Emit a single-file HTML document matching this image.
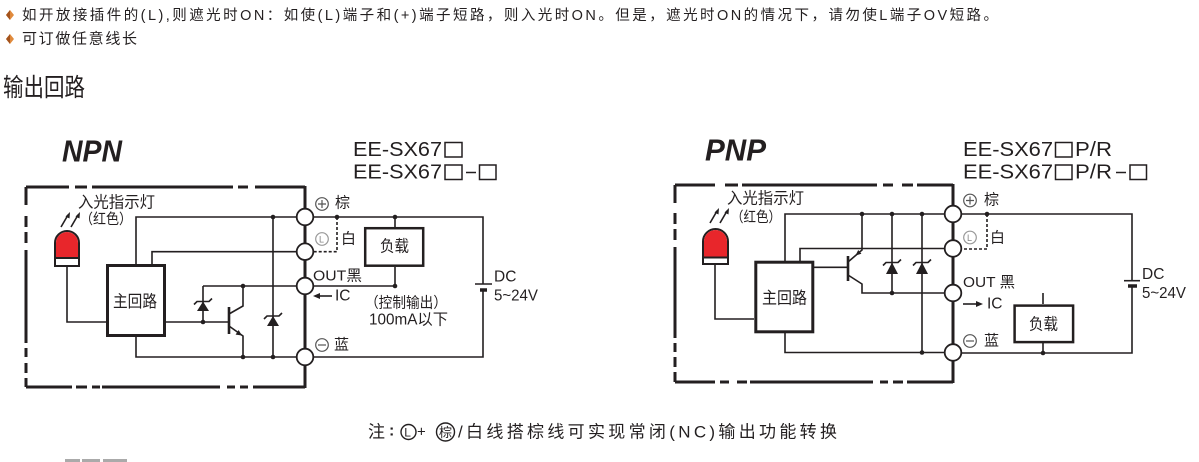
<!DOCTYPE html>
<html><head><meta charset="utf-8"><style>
html,body{margin:0;padding:0;background:#fff;width:1199px;height:462px;overflow:hidden}
svg{display:block}
text{font-family:"Liberation Sans","Noto Sans CJK SC",sans-serif;fill:#231f20;dominant-baseline:central}
.w{fill:none;stroke:#231f20;stroke-width:1.6}
.f{fill:none;stroke:#231f20;stroke-width:3}
.d{fill:#231f20}
.t{fill:#fff;stroke:#231f20;stroke-width:1.8}
.bx{fill:none;stroke:#231f20;stroke-width:1.5}
</style></head><body>
<svg width="1199" height="462" viewBox="0 0 1199 462" xmlns="http://www.w3.org/2000/svg">
<!-- top notes -->
<polygon points="10,10 14,15 10,20 6,15" fill="#e08a3c"/><polygon points="10,10 10,20 6,15" fill="#a4531c"/>
<polygon points="10,34 14,39 10,44 6,39" fill="#e08a3c"/><polygon points="10,34 10,44 6,39" fill="#a4531c"/>
<text x="22" y="16" font-size="14.5" textLength="976" lengthAdjust="spacing">如开放接插件的(L),则遮光时ON：如使(L)端子和(+)端子短路，则入光时ON。但是，遮光时ON的情况下，请勿使L端子OV短路。</text>
<text x="22" y="39" font-size="15" textLength="115" lengthAdjust="spacing">可订做任意线长</text>
<text x="3" y="88" font-size="25" textLength="82" lengthAdjust="spacingAndGlyphs">输出回路</text>

<!-- ================= NPN ================= -->
<text x="62" y="151" font-size="31" font-style="italic" font-weight="bold" textLength="60" lengthAdjust="spacingAndGlyphs">NPN</text>
<text x="353" y="150" font-size="20" textLength="89" lengthAdjust="spacingAndGlyphs">EE-SX67</text>
<rect class="bx" x="445" y="142.5" width="17" height="14.5"/>
<text x="353" y="172.5" font-size="20" textLength="89" lengthAdjust="spacingAndGlyphs">EE-SX67</text>
<rect class="bx" x="445" y="165" width="17" height="14.5"/>
<path d="M466,172.5H476" stroke="#231f20" stroke-width="1.5"/>
<rect class="bx" x="479.5" y="165" width="16.5" height="14.5"/>

<!-- frame -->
<path class="f" d="M26,187H69 M75,187H87 M92,187H233 M238,187H248 M255,187H305
M26,187V205 M26,216V227 M26,232V243 M26,250V343 M26,348V357 M26,363V373 M26,378V387
M26,387H72 M76,387H87 M92,387H100 M102,387H220 M227,387H235 M240,387H248 M253,387H305
M305,186V388"/>

<!-- LED -->
<path d="M55,266V243A12,12 0 0 1 79,243V266Z" fill="#fff" stroke="#231f20" stroke-width="2"/>
<path d="M56,258V243A11,11 0 0 1 78,243V258Z" fill="#e8262b"/>
<line x1="55" y1="258" x2="79" y2="258" stroke="#231f20" stroke-width="2"/>
<path class="w" d="M61,227L68,215 M71,227L78,215"/>
<polygon class="d" points="70,212 65.5,216.5 69.5,218.5"/>
<polygon class="d" points="80,212 75.5,216.5 79.5,218.5"/>
<text x="78" y="203" font-size="16" textLength="77" lengthAdjust="spacingAndGlyphs">入光指示灯</text>
<text x="80" y="220" font-size="14.5" textLength="52" lengthAdjust="spacingAndGlyphs">（红色）</text>

<!-- main box -->
<rect x="107.5" y="265.5" width="57" height="70" fill="#fff" stroke="#231f20" stroke-width="3"/>
<text x="113" y="302" font-size="16.5" textLength="44" lengthAdjust="spacingAndGlyphs">主回路</text>

<!-- internal wires -->
<path class="w" d="M67,266V322H106 M136,264V217H305 M152,264V251.7H305 M166,322H229 M203,286V322 M203,286H305
M243,286V306L229,314 M229,326L243,336V357 M136,337V357H305 M273,217V357"/>
<line x1="229" y1="307" x2="229" y2="334" stroke="#231f20" stroke-width="2.6"/>
<polygon class="d" points="242,335.5 235.6,334.6 238.6,330"/>
<!-- zeners -->
<polygon class="d" points="203,301.5 197,311 209,311"/>
<path class="w" d="M194,304.5L197,301.5H209L212,298.5"/>
<polygon class="d" points="273,316 267,326 279,326"/>
<path class="w" d="M264,319L267,316H279L282,313"/>
<!-- dots -->
<circle class="d" cx="273" cy="217" r="2.3"/><circle class="d" cx="243" cy="286" r="2.3"/>
<circle class="d" cx="203" cy="322" r="2.3"/><circle class="d" cx="243" cy="357" r="2.3"/>
<circle class="d" cx="273" cy="357" r="2.3"/>

<!-- external NPN -->
<path class="w" d="M305,217H483V284 M483,290V357H305 M305,286H395V267 M395,217V227"/>
<path class="w" d="M475,284H492"/><path d="M480,290H487" stroke="#231f20" stroke-width="3.5"/>
<path class="w" stroke-dasharray="3,2" d="M337,217V251.7H314"/>
<circle class="d" cx="337" cy="217" r="2.3"/><circle class="d" cx="395" cy="217" r="2.3"/><circle class="d" cx="395" cy="286" r="2.3"/>
<rect x="365.2" y="228.2" width="58" height="37.5" fill="#fff" stroke="#231f20" stroke-width="2.5"/>
<text x="380" y="247" font-size="16" textLength="29" lengthAdjust="spacingAndGlyphs">负载</text>

<!-- terminals NPN -->
<circle class="t" cx="305" cy="217" r="8.3"/><circle class="t" cx="305" cy="251.7" r="8.3"/>
<circle class="t" cx="305" cy="286" r="8.3"/><circle class="t" cx="305" cy="357" r="8.3"/>

<!-- labels NPN -->
<circle cx="322" cy="204" r="6.3" fill="none" stroke="#555" stroke-width="1.2"/><path d="M318,204H326M322,200V208" stroke="#555" stroke-width="1.2"/>
<text x="335" y="203" font-size="15">棕</text>
<circle cx="322" cy="239" r="6.3" fill="none" stroke="#999" stroke-width="1.2"/><text x="319" y="239.5" font-size="9" style="fill:#888">L</text>
<text x="341" y="239" font-size="15">白</text>
<text x="313" y="276" font-size="15" textLength="49" lengthAdjust="spacingAndGlyphs">OUT黑</text>
<path class="w" d="M318,296H332"/><polygon class="d" points="313,296 320,293 320,299"/>
<text x="335" y="296" font-size="15.5">IC</text>
<circle cx="322" cy="345" r="6.3" fill="none" stroke="#555" stroke-width="1.2"/><path d="M318,345H326" stroke="#555" stroke-width="1.2"/>
<text x="334" y="345" font-size="15">蓝</text>
<text x="365" y="303" font-size="15" textLength="82" lengthAdjust="spacingAndGlyphs">（控制输出）</text>
<text x="369" y="320" font-size="15.5" textLength="79" lengthAdjust="spacingAndGlyphs">100mA以下</text>
<text x="494" y="277" font-size="15.5">DC</text>
<text x="494" y="296" font-size="15.5" textLength="44" lengthAdjust="spacingAndGlyphs">5~24V</text>

<!-- ================= PNP ================= -->
<text x="705" y="150" font-size="31" font-style="italic" font-weight="bold" textLength="61" lengthAdjust="spacingAndGlyphs">PNP</text>
<text x="963" y="150" font-size="20" textLength="90" lengthAdjust="spacingAndGlyphs">EE-SX67</text>
<rect class="bx" x="1055.5" y="142.5" width="16.5" height="14.5"/>
<text x="1075" y="150" font-size="20" textLength="37" lengthAdjust="spacingAndGlyphs">P/R</text>
<text x="963" y="172.5" font-size="20" textLength="90" lengthAdjust="spacingAndGlyphs">EE-SX67</text>
<rect class="bx" x="1055.5" y="165" width="16.5" height="14.5"/>
<text x="1075" y="172.5" font-size="20" textLength="37" lengthAdjust="spacingAndGlyphs">P/R</text>
<path d="M1116,172.5H1126" stroke="#231f20" stroke-width="1.5"/>
<rect class="bx" x="1130" y="165" width="16.5" height="14.5"/>

<path class="f" d="M675,185H715 M725,185H738 M742,185H877 M883,185H893 M902,185H913 M917,185H953
M675,185V203 M675,213V224 M675,229V240 M675,247V338 M675,343V352 M675,357V367 M675,372V382
M675,382H715 M720,382H729 M737,382H747 M750,382H873 M880,382H888 M893,382H903 M907,382H953
M953,184V383"/>

<!-- LED -->
<path d="M703,264V241.5A12.5,12.5 0 0 1 728,241.5V264Z" fill="#fff" stroke="#231f20" stroke-width="2"/>
<path d="M704,257.5V241.5A11.5,11.5 0 0 1 727,241.5V257.5Z" fill="#e8262b"/>
<line x1="703" y1="257.5" x2="728" y2="257.5" stroke="#231f20" stroke-width="2"/>
<path class="w" d="M710,223L717,211 M720,223L727,211"/>
<polygon class="d" points="719,208 714.5,212.5 718.5,214.5"/>
<polygon class="d" points="729,208 724.5,212.5 728.5,214.5"/>
<text x="727" y="199" font-size="16" textLength="77" lengthAdjust="spacingAndGlyphs">入光指示灯</text>
<text x="731" y="218" font-size="14.5" textLength="50" lengthAdjust="spacingAndGlyphs">（红色）</text>

<rect x="755.8" y="262.2" width="57" height="69.6" fill="#fff" stroke="#231f20" stroke-width="3"/>
<text x="762" y="298.5" font-size="16.5" textLength="45" lengthAdjust="spacingAndGlyphs">主回路</text>

<path class="w" d="M715,264V319H754 M785,261V214H953 M800,261V248.5H953 M814,267.3H848
M848,262L862,250V214 M848,275L862,284V293H953 M892,214V293 M922,214V352.5 M785,333V352.5H953"/>
<line x1="848" y1="256" x2="848" y2="281" stroke="#231f20" stroke-width="2.6"/>
<polygon class="d" points="855.5,255.5 861.4,253.8 858.2,250"/>
<polygon class="d" points="892,262.5 886,274 898,274"/>
<path class="w" d="M883,265.5L886,262.5H898L901,259.5"/>
<polygon class="d" points="922,262.5 916,274 928,274"/>
<path class="w" d="M913,265.5L916,262.5H928L931,259.5"/>
<circle class="d" cx="862" cy="214" r="2.3"/><circle class="d" cx="892" cy="214" r="2.3"/>
<circle class="d" cx="922" cy="214" r="2.3"/><circle class="d" cx="892" cy="293" r="2.3"/>
<circle class="d" cx="922" cy="352.5" r="2.3"/>

<!-- external PNP -->
<path class="w" d="M953,214H1132V280.7 M1132,286V353H953 M1043,293V304 M1043,343V353"/>
<path class="w" d="M1124,280.7H1140"/><path d="M1128,286H1137" stroke="#231f20" stroke-width="3.5"/>
<path class="w" stroke-dasharray="3,2" d="M987,214V249H962"/>
<circle class="d" cx="987" cy="214" r="2.3"/><circle class="d" cx="1043" cy="353" r="2.3"/>
<rect x="1014.6" y="305.6" width="58.5" height="36.5" fill="#fff" stroke="#231f20" stroke-width="2.5"/>
<text x="1029" y="325" font-size="16" textLength="29" lengthAdjust="spacingAndGlyphs">负载</text>

<circle class="t" cx="953" cy="214" r="8.3"/><circle class="t" cx="953" cy="248.5" r="8.3"/>
<circle class="t" cx="953" cy="293" r="8.3"/><circle class="t" cx="953" cy="352.5" r="8.3"/>

<circle cx="970" cy="200.5" r="6.3" fill="none" stroke="#555" stroke-width="1.2"/><path d="M966,200.5H974M970,196.5V204.5" stroke="#555" stroke-width="1.2"/>
<text x="984" y="200" font-size="15">棕</text>
<circle cx="970" cy="237.5" r="6.3" fill="none" stroke="#999" stroke-width="1.2"/><text x="967" y="238" font-size="9" style="fill:#888">L</text>
<text x="990" y="238" font-size="15">白</text>
<text x="963" y="282.5" font-size="15" textLength="52" lengthAdjust="spacingAndGlyphs">OUT 黑</text>
<path class="w" d="M963,304H977"/><polygon class="d" points="983,304 976,301 976,307"/>
<text x="987" y="304" font-size="15.5">IC</text>
<circle cx="970" cy="341" r="6.3" fill="none" stroke="#555" stroke-width="1.2"/><path d="M966,341H974" stroke="#555" stroke-width="1.2"/>
<text x="984" y="341" font-size="15">蓝</text>
<text x="1142" y="274.5" font-size="15.5">DC</text>
<text x="1142" y="293.5" font-size="15.5" textLength="44" lengthAdjust="spacingAndGlyphs">5~24V</text>

<!-- bottom note -->
<text x="368" y="432" font-size="17">注</text>
<text x="389" y="431" font-size="16" font-weight="bold">:</text>
<circle cx="408.5" cy="432" r="7.5" fill="none" stroke="#231f20" stroke-width="1.4"/>
<text x="404.3" y="432.5" font-size="12">L</text>
<text x="417" y="432" font-size="15">+</text>
<circle cx="445.5" cy="432" r="9" fill="none" stroke="#231f20" stroke-width="1.4"/>
<text x="439" y="432.5" font-size="13">棕</text>
<text x="458" y="432" font-size="17" textLength="379" lengthAdjust="spacing">/白线搭棕线可实现常闭(NC)输出功能转换</text>

<!-- cut-off text at bottom-left -->
<rect x="65" y="459" width="15" height="3" fill="#aaa"/>
<rect x="82" y="459" width="18" height="3" fill="#aaa"/>
<rect x="103" y="459" width="24" height="3" fill="#aaa"/>
</svg>
</body></html>
